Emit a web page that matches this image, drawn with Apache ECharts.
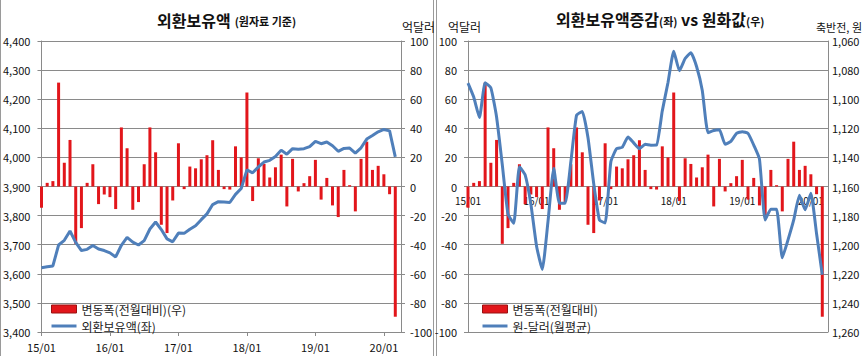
<!DOCTYPE html>
<html><head><meta charset="utf-8">
<script src="https://cdn.jsdelivr.net/npm/echarts@6/dist/echarts.min.js"></script>
<style>
html,body{margin:0;padding:0;background:#fff;}
#c{width:868px;height:356px;}
</style></head>
<body><div id="c"></div>
<script>
// ---- data ----
const months = [
  '15/01','15/02','15/03','15/04','15/05','15/06','15/07','15/08','15/09','15/10','15/11','15/12',
  '16/01','16/02','16/03','16/04','16/05','16/06','16/07','16/08','16/09','16/10','16/11','16/12',
  '17/01','17/02','17/03','17/04','17/05','17/06','17/07','17/08','17/09','17/10','17/11','17/12',
  '18/01','18/02','18/03','18/04','18/05','18/06','18/07','18/08','18/09','18/10','18/11','18/12',
  '19/01','19/02','19/03','19/04','19/05','19/06','19/07','19/08','19/09','19/10','19/11','19/12',
  '20/01','20/02','20/03'
];
// monthly change of FX reserves (억달러)
const reserveChange = [
  -14.6, 2.5, 3.7, 71.4, 16.3, 32.0, -39.4, -28.6, 2.5, 15.3, -12.1, -5.5,
  -7.3, -15.5, 40.6, 26.3, -16.0, -10.7, 15.3, 40.6, 23.5, -26.3, -32.0, -9.6,
  29.7, -1.8, 13.7, 12.5, 18.7, 21.5, 31.8, 11.4, -1.8, -2.1, 27.6, 20.0,
  64.6, -10.0, 19.4, 15.5, 6.2, 13.2, 21.9, -13.7, 19.0, -3.4, 2.3, 7.1,
  18.3, -9.0, 5.9, -13.0, -21.0, 11.4, 0.9, -17.1, 19.0, 30.8, 11.4, 14.2,
  8.4, -5.3, -89.5
];
// FX reserves level (억달러)
const reserves = [
  3621, 3624, 3627, 3699, 3715, 3747, 3708, 3680, 3684, 3697, 3685, 3680,
  3672, 3658, 3698, 3725, 3709, 3699, 3714, 3754, 3778, 3752, 3720, 3710,
  3740, 3739, 3753, 3765, 3786, 3806, 3838, 3848, 3847, 3845, 3873, 3893,
  3957, 3947, 3967, 3984, 3990, 4003, 4025, 4011, 4030, 4028, 4030, 4037,
  4055, 4047, 4053, 4040, 4021, 4031, 4032, 4015, 4033, 4063, 4075, 4088,
  4096, 4091, 4002
];
// KRW/USD monthly average (원)
const krwUsd = [
  1088.9, 1098.5, 1112.6, 1088.7, 1092.2, 1112.2, 1145.0, 1178.9, 1185.3, 1146.5, 1152.0, 1172.0,
  1201.0, 1217.0, 1184.0, 1147.5, 1171.5, 1171.5, 1143.0, 1111.0, 1108.5, 1126.5, 1158.0, 1183.0,
  1185.0, 1143.0, 1134.0, 1133.0, 1126.0, 1130.0, 1134.0, 1131.0, 1131.6, 1131.5, 1108.0, 1088.5,
  1067.0, 1080.5, 1072.0, 1068.0, 1077.5, 1094.0, 1123.0, 1121.5, 1121.0, 1131.0, 1129.0, 1123.5,
  1122.3, 1123.5, 1131.5, 1141.0, 1183.0, 1175.6, 1175.6, 1209.0, 1196.7, 1183.0, 1166.0, 1176.0,
  1164.7, 1192.5, 1220.7
];
const reserveTicks = [3400, 4400, 100];   // min, max, step
const changeTicks  = [-100, 100, 20];
const krwTicks     = [1060, 1260, 20];

const xCats = months.concat(['']);
const FONT = '"Noto Sans CJK KR", "Noto Sans", sans-serif';
const GRID_C = '#8a8a8a';
const RED = '#E2161B';
const BLUE = '#4F7FBA';
const LINE_ICON = 'path://M0,0h25v3h-25z';
const fmt = v => Number(v).toLocaleString('en-US');

const chart = echarts.init(document.getElementById('c'), null, {renderer: 'svg'});

function xAxisCfg(grid, midAxis) {
  return {
    gridIndex: grid, type: 'category', data: xCats, boundaryGap: false,
    position: 'bottom', offset: midAxis ? -145.5 : 0,
    axisLine: {show: true, onZero: false, lineStyle: {color: GRID_C, width: 1}},
    axisTick: {show: !midAxis, interval: 11, length: 4, lineStyle: {color: GRID_C}},
    axisLabel: {interval: 11, fontSize: midAxis ? 10 : 11, fontFamily: FONT, color: '#111', margin: 9},
    splitLine: {show: false}
  };
}
function yAxisCfg(grid, pos, t, margin, opts) {
  return Object.assign({
    gridIndex: grid, type: 'value', position: pos, min: t[0], max: t[1], interval: t[2],
    axisLine: {show: true, lineStyle: {color: GRID_C}},
    axisTick: {show: true, length: 4, lineStyle: {color: GRID_C}},
    axisLabel: {fontSize: 11, fontFamily: FONT, color: '#111', formatter: fmt, margin: margin},
    splitLine: {show: false}
  }, opts || {});
}
const split = {show: true, lineStyle: {color: GRID_C}};

chart.setOption({
  animation: false,
  textStyle: {fontFamily: FONT},
  grid: [
    {left: 40, top: 41, width: 361, height: 291},
    {left: 468, top: 41, width: 360, height: 291}
  ],
  xAxis: [xAxisCfg(0, false), xAxisCfg(1, true)],
  yAxis: [
    yAxisCfg(0, 'left', reserveTicks, 11, {splitLine: split}),
    yAxisCfg(0, 'right', changeTicks, 9),
    yAxisCfg(1, 'left', changeTicks, 11, {splitLine: split}),
    yAxisCfg(1, 'right', krwTicks, 4, {inverse: true, axisTick: {show: false}})
  ],
  legend: [
    {left: 46, top: 298, orient: 'vertical', itemWidth: 25, itemHeight: 8, itemGap: 5,
     textStyle: {fontSize: 12, fontFamily: FONT, color: '#222', lineHeight: 12},
     data: [{name: '변동폭(전월대비)(우)', icon: 'rect', itemStyle: {color: RED, borderColor: '#9a1010', borderWidth: 1}},
            {name: '외환보유액(좌)', icon: LINE_ICON, itemStyle: {color: BLUE}}]},
    {left: 477, top: 298, orient: 'vertical', itemWidth: 25, itemHeight: 8, itemGap: 5,
     textStyle: {fontSize: 12, fontFamily: FONT, color: '#222', lineHeight: 12},
     data: [{name: '변동폭(전월대비)', icon: 'rect', itemStyle: {color: RED, borderColor: '#9a1010', borderWidth: 1}},
            {name: '원-달러(월평균)', icon: LINE_ICON, itemStyle: {color: BLUE}}]}
  ],
  title: [
    {text: '{a|외환보유액} {b|(원자료 기준)}', left: 152, top: 6,
     textStyle: {rich: {a: {fontSize: 16, fontWeight: 'bold', fontFamily: FONT, color: '#111'},
                        b: {fontSize: 11, fontFamily: FONT, color: '#111', padding: [3, 0, 0, 0]}}}},
    {text: '{a|외환보유액증감}{b|(좌)}{a| vs 원화값}{b|(우)}', left: 551, top: 6,
     textStyle: {rich: {a: {fontSize: 16, fontWeight: 'bold', fontFamily: FONT, color: '#111'},
                        b: {fontSize: 11, fontFamily: FONT, color: '#111', padding: [3, 0, 0, 0]}}}},
    {text: '억달러', left: 397, top: 15, textStyle: {fontSize: 12, fontWeight: 'normal', fontFamily: FONT, color: '#111'}},
    {text: '억달러', left: 443, top: 15, textStyle: {fontSize: 12, fontWeight: 'normal', fontFamily: FONT, color: '#111'}},
    {text: '축반전, 원', left: 811, top: 16, textStyle: {fontSize: 11, fontWeight: 'normal', fontFamily: FONT, color: '#111'}}
  ],
  graphic: [
    {type: 'line', shape: {x1: 0.5, y1: 0, x2: 0.5, y2: 356}, style: {stroke: '#9a9a9a', lineWidth: 1}},
    {type: 'line', shape: {x1: 433.5, y1: 0, x2: 433.5, y2: 356}, style: {stroke: '#9a9a9a', lineWidth: 1}},
    {type: 'line', shape: {x1: 436.5, y1: 0, x2: 436.5, y2: 356}, style: {stroke: '#9a9a9a', lineWidth: 1}}
  ],
  series: [
    {type: 'bar', name: '변동폭(전월대비)(우)', xAxisIndex: 0, yAxisIndex: 1, data: reserveChange,
     barWidth: 3, itemStyle: {color: RED}},
    {type: 'line', name: '외환보유액(좌)', xAxisIndex: 0, yAxisIndex: 0, data: reserves,
     symbol: 'none', lineStyle: {width: 3, color: BLUE}, itemStyle: {color: BLUE}},
    {type: 'bar', name: '변동폭(전월대비)', xAxisIndex: 1, yAxisIndex: 2, data: reserveChange,
     barWidth: 3, itemStyle: {color: RED}},
    {type: 'line', name: '원-달러(월평균)', xAxisIndex: 1, yAxisIndex: 3, data: krwUsd,
     symbol: 'none', smooth: 0.15, lineStyle: {width: 3, color: BLUE}, itemStyle: {color: BLUE}}
  ]
});
</script>
</body></html>
